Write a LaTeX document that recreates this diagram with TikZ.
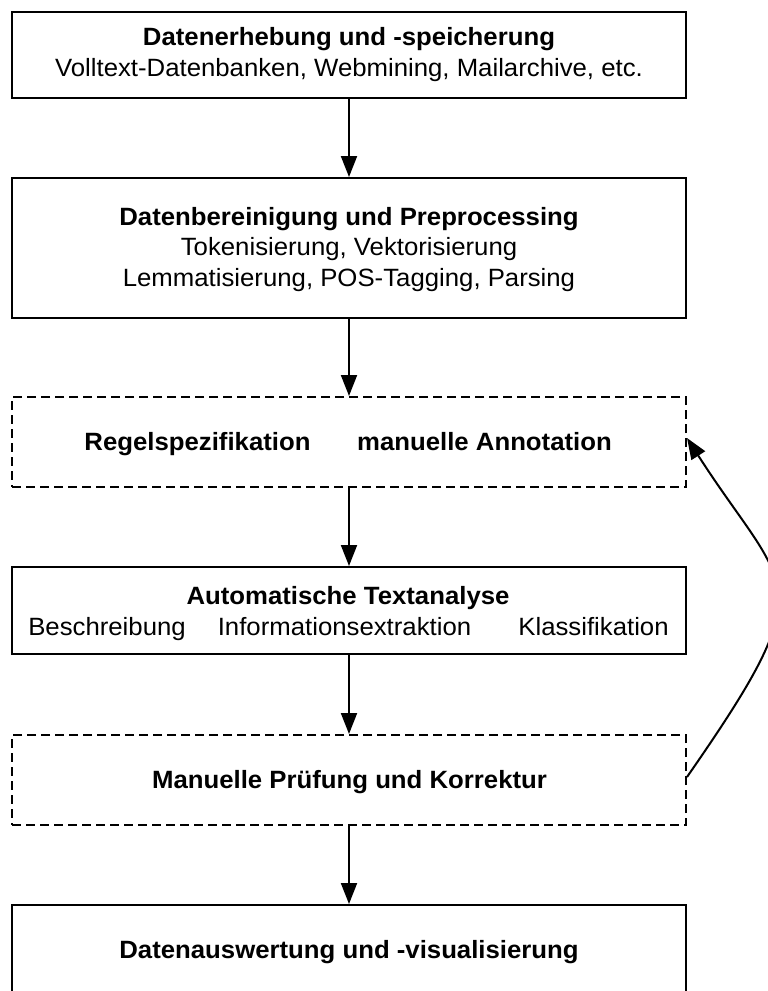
\documentclass[tikz,border=0pt]{standalone}
\usepackage{fontspec}
\setmainfont{Liberation Sans}[FakeStretch=1.03]
\usetikzlibrary{arrows.meta}
\begin{document}
\begin{tikzpicture}[x=1pt,y=-1pt,
  box/.style={draw, line width=2pt, minimum width=674pt, inner sep=0pt},
  dbox/.style={box, dash pattern=on 9pt off 5pt},
  ttl/.style={anchor=base, font=\fontsize{25}{29}\selectfont\bfseries, inner sep=0pt},
  txt/.style={anchor=base, font=\fontsize{25}{29}\selectfont, inner sep=0pt},
  arr/.style={line width=2pt, -{Triangle[length=21pt,width=16pt]}}]
\useasboundingbox (0,0) rectangle (768,991);
\clip (0,0) rectangle (768,991);
\fill[white] (0,0) rectangle (768,991);
% boxes
\node[box, minimum height=86pt] (b1) at (349,55) {};
\node[box, minimum height=140pt] (b2) at (349,248) {};
\node[dbox, minimum height=90pt] (b3) at (349,442) {};
\node[box, minimum height=87pt] (b4) at (349,610.5) {};
\node[dbox, minimum height=90pt] (b5) at (349,780) {};
\node[box, minimum height=140pt] (b6) at (349,975) {};
% texts
\node[ttl] (t1a) at (349,45) {Datenerhebung und -speicherung};
\node[txt] (t1b) at (349,76) {Volltext-Datenbanken, Webmining, Mailarchive, etc.};
\node[ttl] (t2a) at (349,225) {Datenbereinigung und Preprocessing};
\node[txt] (t2b) at (349,255) {Tokenisierung, Vektorisierung};
\node[txt] (t2c) at (349,286) {Lemmatisierung, POS-Tagging, Parsing};
\node[ttl] (t3a) at (197.5,450) {Regelspezifikation};
\node[ttl] (t3b) at (484.5,450) {manuelle Annotation};
\node[ttl] (t4a) at (348,604) {Automatische Textanalyse};
\node[txt] (t4b) at (107,635) {Beschreibung};
\node[txt] (t4c) at (344.5,635) {Informationsextraktion};
\node[txt] (t4d) at (593.5,635) {Klassifikation};
\node[ttl] (t5a) at (349.5,788) {Manuelle Prüfung und Korrektur};
\node[ttl] (t6a) at (349,958) {Datenauswertung und -visualisierung};
% arrows
\draw[arr] (b1.south) -- (b2.north);
\draw[arr] (b2.south) -- (b3.north);
\draw[arr] (b3.south) -- (b4.north);
\draw[arr] (b4.south) -- (b5.north);
\draw[arr] (b5.south) -- (b6.north);
\coordinate (c5) at ([yshift=3pt]b5.east);
\coordinate (c3) at ([yshift=4pt]b3.east);
\draw[arr] (c5) .. controls (826,577) and (787,594) .. (c3);
\end{tikzpicture}
\end{document}
